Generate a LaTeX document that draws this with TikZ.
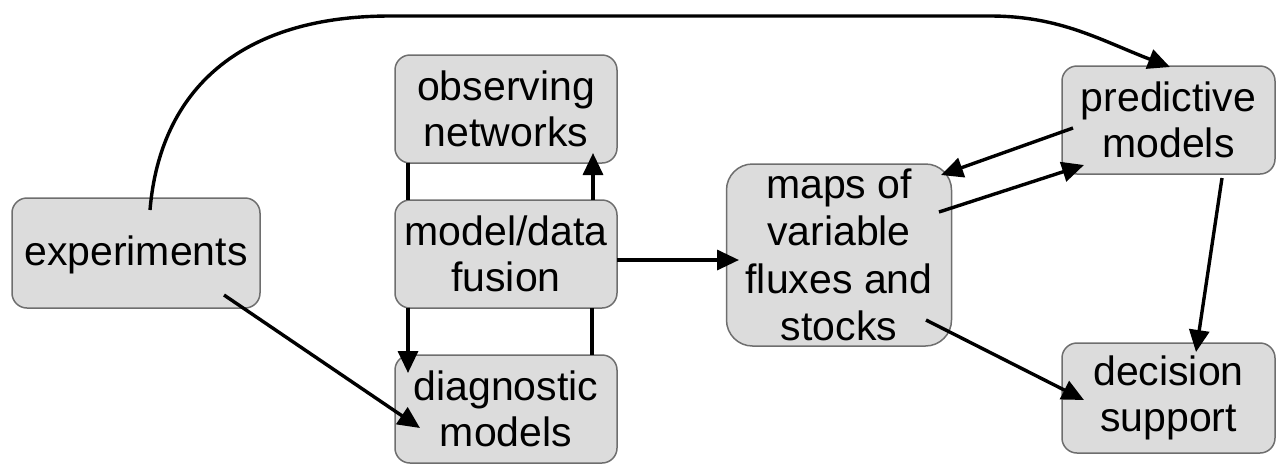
\documentclass[tikz,border=0pt]{standalone}
\usepackage{fontspec}
\setmainfont{Liberation Sans}
\usetikzlibrary{arrows.meta}
\definecolor{boxfill}{HTML}{DCDCDC}
\definecolor{boxline}{HTML}{6E6E6E}
\tikzset{
  box/.style={draw=boxline, line width=0.75pt, fill=boxfill, rounded corners=7.5pt,
    align=center, inner sep=0pt, font=\fontsize{20.5pt}{23pt}\selectfont},
  conn/.style={line width=1.7pt, black},
  arr/.style={conn, -{Triangle[length=11pt,width=10pt]}}
}
\begin{document}
\begin{tikzpicture}[x=0.5pt,y=-0.5pt]
\useasboundingbox (0,0) rectangle (1276,463);
\node[box, minimum width=124pt, minimum height=55pt, text depth=2pt] (exp) at (136,253) {experiments};
\node[box, minimum width=111pt, minimum height=54pt] (obs) at (506,109) {observing\\networks};
\node[box, minimum width=111pt, minimum height=54pt] (fus) at (506,254) {model/data\\fusion};
\node[box, minimum width=111pt, minimum height=54pt] (diag) at (506,409) {diagnostic\\models};
\node[box, rounded corners=13pt, minimum width=112.5pt, minimum height=91pt,
  font=\fontsize{20.5pt}{23.7pt}\selectfont] (maps) at (839,255) {maps of\\variable\\fluxes and\\stocks};
\node[box, minimum width=106.5pt, minimum height=54pt] (pred) at (1168.5,120) {predictive\\models};
\node[box, minimum width=106.5pt, minimum height=55pt] (dec) at (1168.5,398) {decision\\support};

% long curve
\draw[arr] ([shift={(14,-43)}]exp.center) .. controls (160,90) and (240,16) .. (390,16)
  -- (990,16) .. controls (1060,16) and (1100,40) .. ([shift={(1.5,-53)}]pred.center);
% vertical links around fusion
\draw[arr] ([shift={(87,-54)}]fus.center) -- ([shift={(87,44)}]obs.center);
\draw[conn] ([shift={(-98,54)}]obs.center) -- ([shift={(-98,-54)}]fus.center);
\draw[arr] ([shift={(-98,54)}]fus.center) -- ([shift={(-98,-36)}]diag.center);
\draw[conn] ([shift={(86,54)}]fus.center) -- ([shift={(86,-54)}]diag.center);
% other arrows
\draw[arr] ([shift={(88,42)}]exp.center) -- ([shift={(-86,19)}]diag.center);
\draw[arr] ([shift={(111,6)}]fus.center) -- ([shift={(-100,5)}]maps.center);
\draw[arr] ([shift={(-95.5,8)}]pred.center) -- ([shift={(102,-80)}]maps.center);
\draw[arr] ([shift={(100,-43)}]maps.center) -- ([shift={(-84.5,45)}]pred.center);
\draw[arr] ([shift={(53.5,58)}]pred.center) -- ([shift={(27.5,-46)}]dec.center);
\draw[arr] ([shift={(87,65)}]maps.center) -- ([shift={(-84.5,2)}]dec.center);
\end{tikzpicture}
\end{document}
